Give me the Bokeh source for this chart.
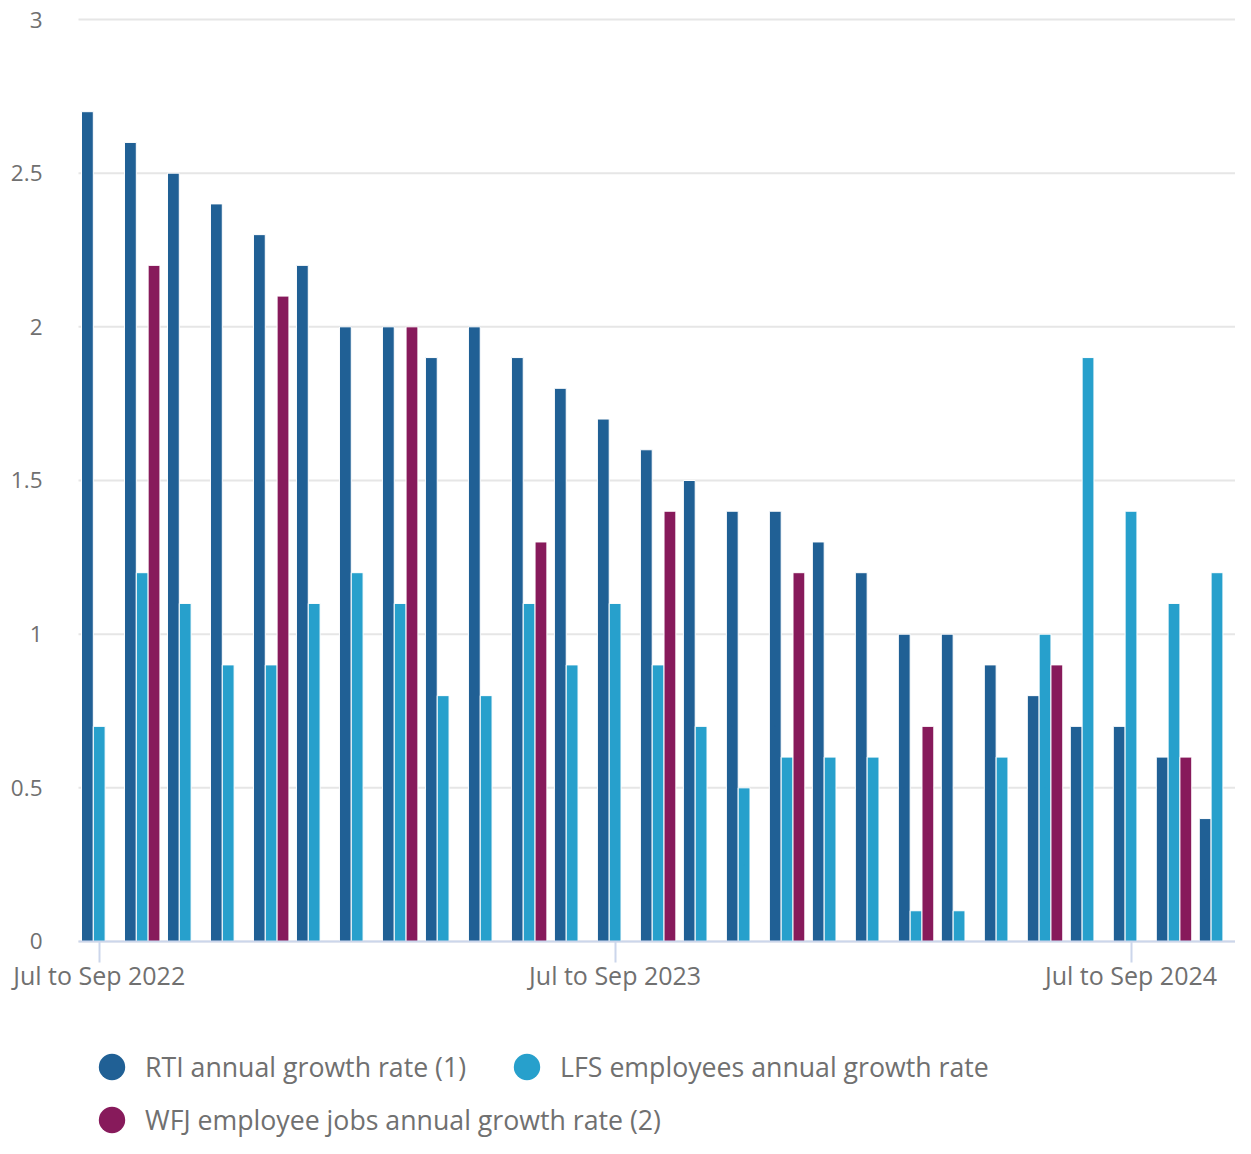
from bokeh.plotting import figure
from bokeh.models import ColumnDataSource, FixedTicker, Range1d, Legend, LegendItem
from bokeh.embed import file_html
from bokeh.resources import INLINE

categories = [
    "Jul to Sep 2022", "Aug to Oct 2022", "Sep to Nov 2022", "Oct to Dec 2022",
    "Nov to Jan 2023", "Dec to Feb 2023", "Jan to Mar 2023", "Feb to Apr 2023",
    "Mar to May 2023", "Apr to Jun 2023", "May to Jul 2023", "Jun to Aug 2023",
    "Jul to Sep 2023", "Aug to Oct 2023", "Sep to Nov 2023", "Oct to Dec 2023",
    "Nov to Jan 2024", "Dec to Feb 2024", "Jan to Mar 2024", "Feb to Apr 2024",
    "Mar to May 2024", "Apr to Jun 2024", "May to Jul 2024", "Jun to Aug 2024",
    "Jul to Sep 2024", "Aug to Oct 2024", "Sep to Nov 2024",
]
rti = [2.7, 2.6, 2.5, 2.4, 2.3, 2.2, 2.0, 2.0, 1.9, 2.0, 1.9, 1.8, 1.7, 1.6,
       1.5, 1.4, 1.4, 1.3, 1.2, 1.0, 1.0, 0.9, 0.8, 0.7, 0.7, 0.6, 0.4]
lfs = [0.7, 1.2, 1.1, 0.9, 0.9, 1.1, 1.2, 1.1, 0.8, 0.8, 1.1, 0.9, 1.1, 0.9,
       0.7, 0.5, 0.6, 0.6, 0.6, 0.1, 0.1, 0.6, 1.0, 1.9, 1.4, 1.1, 1.2]
wfj = [None, 2.2, None, None, 2.1, None, None, 2.0, None, None, 1.3, None, None, 1.4,
       None, None, 1.2, None, None, 0.7, None, None, 0.9, None, None, 0.6, None]
y_ticks = [0, 0.5, 1, 1.5, 2, 2.5, 3]
y_tick_labels = ["0", "0.5", "1", "1.5", "2", "2.5", "3"]

series_names = ["RTI annual growth rate (1)", "LFS employees annual growth rate",
                "WFJ employee jobs annual growth rate (2)"]
colors = ["#206095", "#27a0cc", "#871a5b"]

FONT = "Open Sans"
TEXT = "#707070"
GRID = "#e6e6e6"
AXIS = "#ccd6eb"
BW = 0.275

W, H = 1235, 1138
PLOT_LEFT_PX = 78                 # left edge of the bar area
X_LEFT, X_RIGHT = -0.482, 26.43   # category extent of the bar area
px_per_cat = (W - PLOT_LEFT_PX) / (X_RIGHT - X_LEFT)
x_start = X_LEFT - PLOT_LEFT_PX / px_per_cat

PX_PER_UNIT = 307.33      # vertical scale of the value axis
ZERO_Y = 941              # pixel row of the zero line
y_top = 3 + 19 / PX_PER_UNIT
y_bottom = -(H - ZERO_Y) / PX_PER_UNIT   # room below zero for axis labels and legend

p = figure(width=W, height=H, output_backend="svg", toolbar_location=None,
           x_range=Range1d(x_start, X_RIGHT), y_range=Range1d(y_bottom, y_top),
           min_border_left=0, min_border_right=0, min_border_top=0,
           min_border_bottom=0)
p.outline_line_color = None
p.background_fill_color = "white"
p.border_fill_color = "white"

# horizontal gridlines spanning only the bar area
p.segment(x0=[X_LEFT] * len(y_ticks), x1=[X_RIGHT] * len(y_ticks), y0=y_ticks, y1=y_ticks,
          line_color=GRID, line_width=2)

idx = list(range(len(categories)))
proxies = []
for k, (vals, off) in enumerate([(rti, -BW), (lfs, 0.0), (wfj, BW)]):
    xs = [i + off for i, v in zip(idx, vals) if v is not None]
    ys = [v for v in vals if v is not None]
    src = ColumnDataSource(dict(x=xs, top=ys, mid=[v / 2 for v in ys]))
    p.vbar(x="x", top="top", bottom=0, width=BW, source=src,
           fill_color=colors[k], line_color="white", line_width=1)
    # tiny same-colour ellipse inside each bar, used only as the round legend swatch
    r = p.ellipse(x="x", y="mid", width=1, height=1, width_units="screen",
                  height_units="screen", source=src, fill_color=colors[k],
                  line_color=None)
    proxies.append(r)

# x axis sits on the zero line
p.xaxis.fixed_location = 0
p.xaxis.bounds = (X_LEFT, X_RIGHT)
p.xaxis.ticker = FixedTicker(ticks=[i for i, c in enumerate(categories) if c.startswith("Jul to Sep")])
p.xaxis.major_label_overrides = {i: c for i, c in enumerate(categories)}
p.xaxis.axis_line_color = AXIS
p.xaxis.axis_line_width = 2
p.xaxis.major_tick_line_color = AXIS
p.xaxis.major_tick_line_width = 2
p.xaxis.major_tick_out = 21
p.xaxis.major_tick_in = 0
p.xaxis.minor_tick_line_color = None
p.xaxis.major_label_text_font = FONT
p.xaxis.major_label_text_font_size = "25px"
p.xaxis.major_label_text_color = TEXT
p.xaxis.major_label_standoff = -4

# y axis at the left edge of the bar area
p.yaxis.fixed_location = X_LEFT
p.yaxis.ticker = FixedTicker(ticks=y_ticks)
p.yaxis.major_label_overrides = {t: l for t, l in zip(y_ticks, y_tick_labels)}
p.yaxis.axis_line_color = None
p.yaxis.major_tick_line_color = None
p.yaxis.minor_tick_line_color = None
p.yaxis.major_label_text_font = FONT
p.yaxis.major_label_text_font_size = "22.5px"
p.yaxis.major_label_text_color = TEXT
p.yaxis.major_label_standoff = 30

p.xgrid.grid_line_color = None
p.ygrid.grid_line_color = None


def make_legend(items, loc):
    return Legend(items=items, location=loc, orientation="horizontal",
                  glyph_width=67, glyph_height=33, label_standoff=0, spacing=27,
                  padding=0, margin=0, border_line_color=None,
                  background_fill_alpha=0, label_text_font=FONT,
                  label_text_font_size="26.7px", label_text_color=TEXT,
                  label_height=20)


leg1 = make_legend([LegendItem(label=series_names[0], renderers=[proxies[0]]),
                    LegendItem(label=series_names[1], renderers=[proxies[1]])],
                   (PLOT_LEFT_PX, 53))
leg2 = make_legend([LegendItem(label=series_names[2], renderers=[proxies[2]])],
                   (PLOT_LEFT_PX, 0))
p.add_layout(leg1, "center")
p.add_layout(leg2, "center")

open("out.html", "w").write(file_html(p, INLINE))
